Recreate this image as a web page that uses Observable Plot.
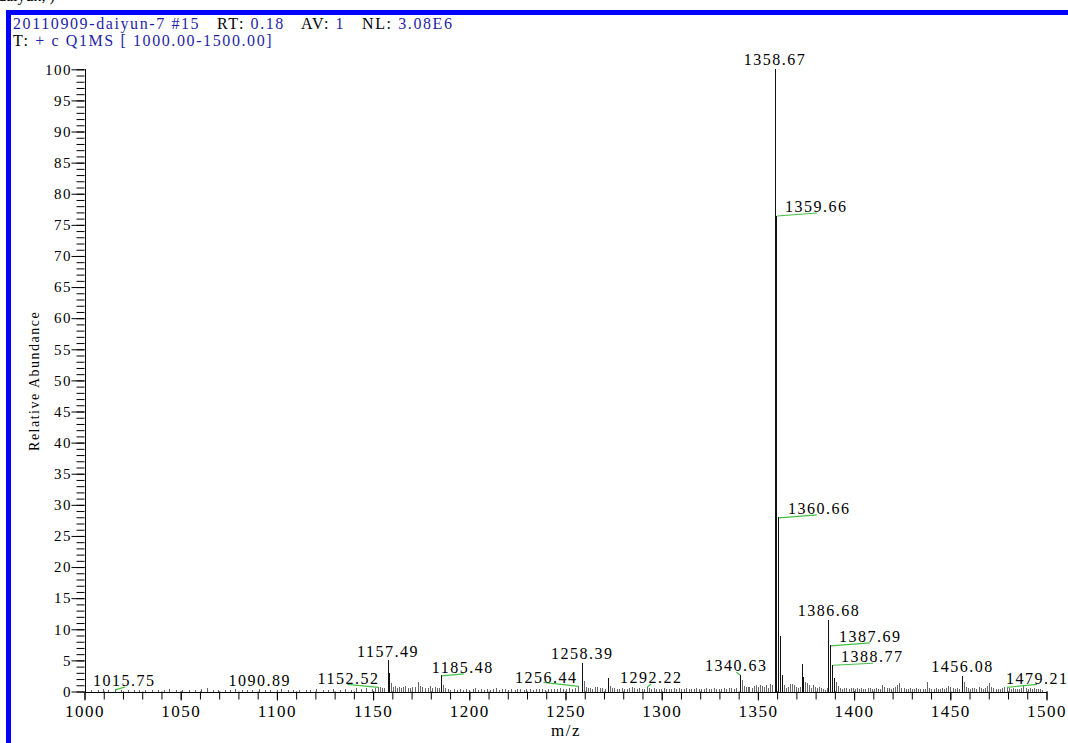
<!DOCTYPE html>
<html>
<head>
<meta charset="utf-8">
<script src="https://cdn.jsdelivr.net/npm/d3@7"></script>
<script src="https://cdn.jsdelivr.net/npm/@observablehq/plot@0.6"></script>
<style>
  html, body { margin: 0; padding: 0; background: #fff; }
  #wrap { position: relative; width: 1068px; height: 743px; overflow: hidden; font-family: "Liberation Serif", "Times New Roman", serif; }
  .bar-top { position: absolute; left: 6px; top: 10px; width: 1062px; height: 5px; background: #0000ff; }
  .bar-left { position: absolute; left: 6px; top: 10px; width: 5px; height: 733px; background: #0000ff; }
  .hdr { position: absolute; left: 13px; font-size: 16px; line-height: 16px; letter-spacing: 1.6px; color: #000; white-space: pre; }
  .hdr span { color: #1f1fa8; }
  .cut { position: absolute; left: -2px; top: -12px; font-size: 16px; line-height: 16px; color: #000; white-space: pre; }
  #chart { position: absolute; left: 0; top: 0; }
  #chart svg text { letter-spacing: 1.5px; }
</style>
</head>
<body>
<div id="wrap">
  <div class="cut">daiyun, )</div>
  <div class="bar-top"></div>
  <div class="bar-left"></div>
  <div class="hdr" id="h1" style="top:16px"></div>
  <div class="hdr" id="h2" style="top:33px"></div>
  <div id="chart"></div>
</div>
<script>
// ---------------- data ----------------
const headerLine1 = [["20110909-daiyun-7 #15", true], ["   RT: ", false], ["0.18", true], ["   AV: ", false], ["1", true], ["   NL: ", false], ["3.08E6", true]];
const headerLine2 = [["T: ", false], ["+ c Q1MS [ 1000.00-1500.00]", true]];

const xTitle = "m/z";
const yTitle = "Relative Abundance";
const xDomain = [1000, 1500];
const yDomain = [0, 100];
const xMajorTicks = [1000, 1050, 1100, 1150, 1200, 1250, 1300, 1350, 1400, 1450, 1500];
const xMinorTicks = d3.range(1000, 1501, 10);
const yMajorTicks = d3.range(0, 101, 5);
const yMinorTicks = d3.range(0, 101, 1);

// [m/z, relative abundance]
const lowMassPeaks = [
  [1003.2,0.3],[1006.8,0.2],[1009.5,0.4],[1012.1,0.2],[1015.75,0.35],[1018.9,0.2],[1022.4,0.3],[1025.6,0.2],
  [1028.3,0.25],[1031.7,0.3],[1034.9,0.2],[1038.2,0.3],[1041.5,0.2],[1044.1,0.45],[1047.6,0.25],[1050.8,0.2],
  [1054.3,0.3],[1057.2,0.2],[1060.6,0.35],[1063.9,0.5],[1066.7,0.25],[1069.4,0.2],[1072.8,0.3],[1075.5,0.25],
  [1078.1,0.35],[1081.9,0.2],[1084.6,0.3],[1087.3,0.25],[1090.89,0.4],[1093.7,0.25],[1096.5,0.3],[1099.8,0.2],
  [1102.3,0.35],[1105.6,0.25],[1108.4,0.3],[1111.7,0.2],[1114.9,0.3],[1117.2,0.25],[1120.5,0.35],[1123.8,0.3],
  [1126.4,0.25],[1129.1,0.4],[1132.6,0.3],[1135.3,0.45],[1138.7,0.3],[1141.2,0.5],[1143.9,0.4],[1146.5,0.55],
  [1149.2,0.45],[1151.1,0.6],[1152.52,0.75],[1153.6,0.7],[1154.8,0.6],[1155.9,0.5]
];
const midMassPeaks = [
  [1157.49,5.0],[1158.49,3.0],[1159.5,1.3],[1160.5,0.7],[1161.6,0.9],[1162.6,0.6],[1163.7,0.8],[1164.5,0.5],
  [1165.6,0.7],[1166.8,0.9],[1168.1,0.6],[1169.3,0.5],[1170.4,0.7],[1171.6,0.8],[1173.5,1.6],[1174.5,0.9],
  [1175.6,0.7],[1176.8,0.6],[1178.3,0.5],[1179.5,0.9],[1180.7,0.6],[1182.0,0.7],[1183.2,0.5],[1184.3,0.6],
  [1185.48,2.6],[1186.5,1.1],[1187.5,0.6],[1188.7,0.4],[1190.1,0.3],[1191.8,0.4],[1193.4,0.3],[1195.0,0.4],
  [1196.6,0.3],[1198.3,0.35],[1200.0,0.3],[1201.7,0.4],[1203.1,0.6],[1204.6,0.3],[1206.2,0.35],[1207.8,0.3],
  [1209.4,0.4],[1211.0,0.3],[1212.5,0.35],[1214.0,0.5],[1215.6,0.3],[1217.1,0.4],[1218.8,0.35],[1220.3,0.3],
  [1221.9,0.4],[1223.5,0.3],[1225.0,0.35],[1226.6,0.45],[1228.2,0.3],[1229.7,0.4],[1231.3,0.35],[1232.9,0.3],
  [1234.5,0.45],[1236.0,0.35],[1237.6,0.4],[1239.2,0.3],[1240.8,0.35],[1242.3,0.45],[1243.9,0.35],[1245.5,0.4],
  [1247.0,0.5],[1248.6,0.4],[1250.2,0.45],[1251.8,0.5],[1253.3,0.4],[1254.8,0.6],[1256.44,0.9],[1258.39,4.6],
  [1259.4,1.7],[1260.4,0.7],[1261.5,0.5],[1262.7,0.6],[1264.0,0.4],[1265.3,0.7],[1266.6,0.8],[1267.9,0.5],
  [1269.2,0.6],[1270.4,0.4],[1272.0,2.1],[1273.0,0.9],[1274.2,0.6],[1275.4,0.5],[1276.7,0.4],[1278.0,0.45],
  [1279.3,0.5],[1280.6,0.35],[1281.9,0.4],[1283.2,0.6],[1284.5,0.7],[1285.8,0.5],[1287.1,0.4],[1288.4,0.5],
  [1289.7,0.35],[1291.0,0.4],[1292.22,0.8],[1293.3,0.5],[1294.6,0.4],[1295.9,0.6],[1297.2,0.4],[1298.5,0.35],
  [1299.8,0.45],[1301.1,0.5],[1302.4,0.4],[1303.7,0.45],[1305.0,0.35],[1306.3,0.5],[1307.6,0.4],[1308.9,0.55],
  [1310.2,0.4],[1311.5,0.35],[1312.8,0.5],[1314.1,0.4],[1315.4,0.45],[1316.7,0.35],[1318.0,0.5],[1319.3,0.4],
  [1320.6,0.45],[1321.9,0.35],[1323.2,0.6],[1324.5,0.4],[1325.8,0.35],[1327.1,0.5],[1328.4,0.4],[1329.7,0.45],
  [1331.0,0.4],[1332.3,0.5],[1333.6,0.35],[1334.9,0.6],[1336.2,0.5],[1337.5,0.4],[1338.8,0.6]
];
const highMassPeaks = [
  [1340.63,2.7],[1341.6,1.9],[1342.6,0.9],[1343.6,0.7],[1344.6,0.8],[1345.6,0.7],[1346.7,0.5],[1347.8,0.9],
  [1348.8,1.0],[1349.9,0.8],[1350.9,1.0],[1352.0,0.9],[1353.0,0.7],[1354.1,1.0],[1355.1,0.6],[1356.2,1.2],
  [1357.3,1.0],[1358.67,100],[1359.66,76.5],[1360.66,28.0],[1361.62,8.9],[1362.64,2.6],[1363.6,1.0],[1364.6,0.6],
  [1365.6,0.8],[1366.6,1.2],[1367.6,1.2],[1368.7,1.1],[1369.7,0.8],[1370.7,0.6],[1371.7,0.7],[1372.7,4.5],
  [1373.7,2.4],[1374.7,1.5],[1375.7,1.4],[1376.7,1.0],[1377.8,0.6],[1378.8,1.0],[1379.8,0.8],[1380.8,0.6],
  [1381.8,0.7],[1382.8,0.5],[1383.8,0.4],[1384.8,0.3],[1385.8,0.5],[1386.68,11.5],[1387.69,7.4],[1388.77,4.3],
  [1389.7,2.1],[1390.7,1.5],[1391.7,0.9],[1392.8,0.5],[1393.8,0.4],[1394.9,0.6],[1396.0,0.5],[1397.1,0.4],
  [1398.2,0.6],[1399.3,0.5],[1400.4,0.4],[1401.5,0.6],[1402.6,0.35],[1403.7,0.5],[1404.8,0.4],[1405.9,0.45],
  [1407.0,0.6],[1408.1,0.5],[1409.2,0.35],[1410.3,0.4],[1411.4,0.5],[1412.5,0.35],[1413.6,0.45],[1414.7,1.0],
  [1415.8,0.8],[1416.9,0.6],[1418.0,0.5],[1419.1,0.45],[1420.2,0.6],[1421.3,0.8],[1422.4,1.0],[1423.5,1.4],
  [1424.6,0.6],[1425.7,0.5],[1426.8,0.4],[1427.9,0.45],[1429.0,0.5],[1430.1,0.35],[1431.2,0.45],[1432.3,0.5],
  [1433.4,0.4],[1434.5,0.45],[1435.6,0.35],[1436.7,0.4],[1438.0,1.5],[1439.1,0.6],[1440.2,0.4],[1441.3,0.35],
  [1442.4,0.5],[1443.5,0.4],[1444.6,0.45],[1445.7,0.5],[1446.8,0.4],[1447.9,0.6],[1449.0,0.9],[1450.1,0.8],
  [1451.2,0.6],[1452.3,0.4],[1453.4,0.5],[1454.5,0.45],[1456.08,2.5],[1457.1,1.5],[1458.1,0.8],[1459.2,0.6],
  [1460.3,0.4],[1461.4,0.5],[1462.5,0.6],[1463.6,0.45],[1464.7,0.7],[1465.8,0.5],[1466.9,0.45],[1468.0,0.6],
  [1469.1,0.9],[1470.2,1.3],[1471.3,0.7],[1472.4,0.5],[1473.5,0.45],[1474.6,0.4],[1475.7,0.35],[1476.8,0.5],
  [1477.9,0.7],[1479.21,0.75],[1480.3,0.6],[1481.4,0.45],[1482.5,0.5],[1483.6,0.4],[1484.7,0.45],[1485.8,0.35],
  [1486.9,0.6],[1488.0,0.9],[1489.1,0.5],[1490.2,0.45],[1491.3,0.5],[1492.4,0.4],[1493.5,0.6],[1494.6,0.35],
  [1495.7,0.4],[1496.8,0.45],[1497.9,0.3]
];

const labeledMz = [1015.75, 1090.89, 1152.52, 1157.49, 1185.48, 1256.44, 1258.39, 1292.22, 1340.63,
                   1358.67, 1359.66, 1360.66, 1386.68, 1387.69, 1388.77, 1456.08, 1479.21];

// ---------------- layout (pixel offsets of labels from peak tops) ----------------
const labelLayout = {
  1015.75: {anchor: "middle", dx: 9, dy: -4, lx: 10, ly: -3},
  1090.89: {anchor: "middle", dx: 0, dy: -4},
  1152.52: {anchor: "end", dx: 1, dy: -3, lx: -31, ly: -3},
  1157.49: {anchor: "middle", dx: 0, dy: -4},
  1185.48: {anchor: "start", dx: -10, dy: -3, lx: 22, ly: -2},
  1256.44: {anchor: "end", dx: -1, dy: -3, lx: -35, ly: -4},
  1258.39: {anchor: "middle", dx: 0, dy: -4},
  1292.22: {anchor: "middle", dx: 4, dy: -4, lx: 4, ly: -3},
  1340.63: {anchor: "middle", dx: -4, dy: -4, lx: -4, ly: -3},
  1358.67: {anchor: "middle", dx: 0, dy: -5},
  1359.66: {anchor: "start", dx: 8, dy: -4, lx: 40, ly: -3},
  1360.66: {anchor: "start", dx: 9, dy: -4, lx: 38, ly: -3},
  1386.68: {anchor: "middle", dx: 0, dy: -4},
  1387.69: {anchor: "start", dx: 8, dy: -4, lx: 39, ly: -3},
  1388.77: {anchor: "start", dx: 8, dy: -3, lx: 40, ly: -2},
  1456.08: {anchor: "middle", dx: 0, dy: -4},
  1479.21: {anchor: "start", dx: -1, dy: -3, lx: 30, ly: -3}
};

// ---------------- header ----------------
function fillHeader(el, parts) {
  for (const [t, blue] of parts) {
    const s = document.createElement(blue ? "span" : "b");
    if (!blue) s.style.fontWeight = "normal";
    s.textContent = t;
    el.appendChild(s);
  }
}
fillHeader(document.getElementById("h1"), headerLine1);
fillHeader(document.getElementById("h2"), headerLine2);

// ---------------- chart ----------------
const W = 1068, H = 743, ML = 84.5, MR = 21.5, MT = 69.3, MB = 51.5;
const kx = (xDomain[1] - xDomain[0]) / (W - ML - MR);
const ky = (yDomain[1] - yDomain[0]) / (H - MT - MB);

const spectrum = [...lowMassPeaks, ...midMassPeaks, ...highMassPeaks].map(([mz, ab]) => ({mz, ab}));
const abAt = new Map(spectrum.map(d => [d.mz, d.ab]));
const labels = labeledMz.map(mz => ({mz, ab: abAt.get(mz), text: mz.toFixed(2), ...labelLayout[mz]}));
const leaders = labels.filter(d => d.lx !== undefined);

const labelMarks = ["middle", "start", "end"].map(anchor =>
  Plot.text(labels.filter(d => d.anchor === anchor), {
    x: d => d.mz + d.dx * kx,
    y: d => d.ab - d.dy * ky,
    text: "text",
    textAnchor: anchor, lineAnchor: "bottom",
    fontSize: 16, fill: "#000"
  })
);

function spacing(px) {
  return (index, scales, values, dims, context, next) => {
    const g = next(index, scales, values, dims, context);
    g.style.letterSpacing = px;
    return g;
  };
}

const chart = Plot.plot({
  width: W, height: H,
  marginLeft: ML, marginRight: MR, marginTop: MT, marginBottom: MB,
  x: {domain: xDomain},
  y: {domain: yDomain},
  style: {fontFamily: "'Liberation Serif', 'Times New Roman', serif", fontSize: "15px", background: "transparent", color: "#000", overflow: "visible"},
  marks: [
    // minor ticks
    Plot.axisY({ticks: yMinorTicks, tickSize: 8, tickFormat: () => "", label: null, stroke: "#000"}),
    Plot.axisX({ticks: xMinorTicks, tickSize: 8, tickFormat: () => "", label: null, stroke: "#000"}),
    // major ticks with labels
    Plot.axisY({ticks: yMajorTicks, tickSize: 13, tickPadding: 0, tickFormat: "d", fontSize: 15, label: null, stroke: "#000"}),
    Plot.axisX({ticks: xMajorTicks, tickSize: 9, tickPadding: 4, tickFormat: "d", fontSize: 17, label: null, stroke: "#000"}),
    // axis lines
    Plot.ruleX([xDomain[0]], {stroke: "#000", shapeRendering: "crispEdges"}),
    Plot.ruleY([0], {stroke: "#000", shapeRendering: "crispEdges"}),
    // spectrum sticks
    Plot.ruleX(spectrum, {x: "mz", y1: 0, y2: "ab", stroke: d => d.ab >= 2 ? "#111" : "#666", strokeWidth: 1, shapeRendering: "crispEdges"}),
    // leader lines
    Plot.link(leaders, {
      x1: "mz", y1: "ab",
      x2: d => d.mz + d.lx * kx, y2: d => d.ab - d.ly * ky,
      stroke: "#45c045", strokeWidth: 1.2
    }),
    ...labelMarks,
    // axis titles
    Plot.text([xTitle], {frameAnchor: "bottom", dy: 44, lineAnchor: "bottom", textAnchor: "middle", fontSize: 17, render: spacing("1px")}),
    Plot.text([yTitle], {frameAnchor: "left", dx: -50, rotate: -90, textAnchor: "middle", fontSize: 14, render: spacing("0.6px")})
  ]
});
document.getElementById("chart").appendChild(chart);
</script>
</body>
</html>
